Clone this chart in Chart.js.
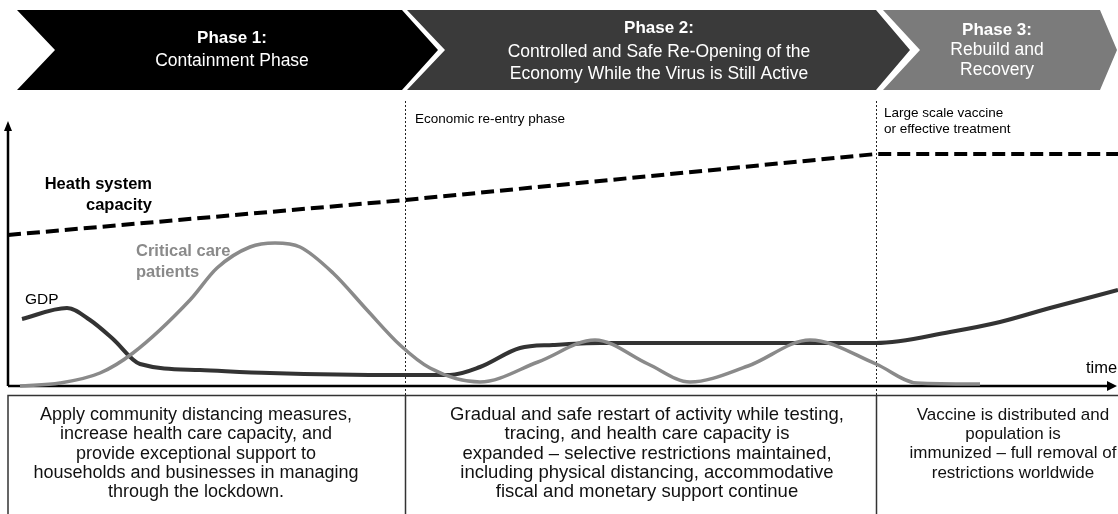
<!DOCTYPE html>
<html>
<head>
<meta charset="utf-8">
<script src="https://cdn.jsdelivr.net/npm/chart.js@4/dist/chart.umd.min.js"></script>
<style>
  html, body { margin: 0; padding: 0; background: #fff; }
  #wrap { width: 1118px; height: 514px; }
</style>
</head>
<body>
<div id="wrap"><canvas id="c" width="1118" height="514"></canvas></div>
<script>
// time runs along x, level along y (arbitrary units, no ticks shown)
const capacityPts = [[0, 151], [397, 186], [868, 232], [1110, 232]];
const criticalPts = [[12, 0], [52, 3], [92, 13], [125, 33], [182, 86], [209, 118], [242, 139], [267, 143],
  [292, 139], [325, 113], [359, 76], [392, 41], [422, 18], [472, 4], [530, 24], [587, 46], [640, 22],
  [682, 4], [740, 20], [802, 46], [868, 22], [909, 3], [972, 2]];
const gdpPts = [[14, 67], [59, 78], [82, 66], [105, 47], [132, 22], [192, 16], [262, 13], [392, 11],
  [442, 11], [472, 19], [512, 38], [545, 41], [592, 43], [868, 43], [942, 54], [992, 64], [1042, 78], [1110, 96]];

// phase boundaries on the time axis
const phaseBounds = [397, 868];
const phaseTitles = ['Phase 1:', 'Phase 2:', 'Phase 3:'];
const phaseSubtitles = [
  ['Containment Phase'],
  ['Controlled and Safe Re-Opening of the', 'Economy While the Virus is Still Active'],
  ['Rebuild and', 'Recovery']
];
const phaseNotes = [
  ['Apply community distancing measures,', 'increase health care capacity, and', 'provide exceptional support to',
   'households and businesses in managing', 'through the lockdown.'],
  ['Gradual and safe restart of activity while testing,', 'tracing, and health care capacity is',
   'expanded \u2013 selective restrictions maintained,', 'including physical distancing, accommodative',
   'fiscal and monetary support continue'],
  ['Vaccine is distributed and', 'population is', 'immunized \u2013 full removal of', 'restrictions worldwide']
];

const FONT = '"Liberation Sans", Arial, sans-serif';
const toXY = a => a.map(p => ({ x: p[0], y: p[1] }));

function chevron(ctx, xl, xr, top, bot, notch, tip, color) {
    const mid = (top + bot) / 2;
    ctx.beginPath();
    ctx.moveTo(xl, top);
    ctx.lineTo(xr, top);
    ctx.lineTo(xr + tip, mid);
    ctx.lineTo(xr, bot);
    ctx.lineTo(xl, bot);
    ctx.lineTo(xl + notch, mid);
    ctx.closePath();
    ctx.fillStyle = color;
    ctx.fill();
}

function lines(ctx, arr, x, y, lh) {
    arr.forEach((t, i) => ctx.fillText(t, x, y + i * lh));
}

const decor = {
    id: 'decor',
    beforeDatasetsDraw(chart) {
        const ctx = chart.ctx, xs = chart.scales.x, ys = chart.scales.y;
        const x0 = xs.getPixelForValue(0), y0 = ys.getPixelForValue(0);
        const b1 = xs.getPixelForValue(phaseBounds[0]), b2 = xs.getPixelForValue(phaseBounds[1]);
        ctx.save();

        // phase arrows
        chevron(ctx, 17, b1 - 3, 10, 90, 38, 36, '#000000');
        chevron(ctx, b1 + 2, b2, 10, 90, 38, 34, '#3a3a3a');
        chevron(ctx, b2 + 7, 1100, 10, 90, 37, 17, '#7b7b7b');

        ctx.fillStyle = '#fff';
        ctx.textAlign = 'center';
        ctx.textBaseline = 'middle';
        const cx = [232, 659, 997];
        const ty = [38, 28, 30];
        const sub = [61, 52, 50];
        const lh = [22, 22, 20];
        for (let i = 0; i < 3; i++) {
            ctx.font = 'bold 17px ' + FONT;
            ctx.fillText(phaseTitles[i], cx[i], ty[i]);
            ctx.font = '17.5px ' + FONT;
            lines(ctx, phaseSubtitles[i], cx[i], sub[i], lh[i]);
        }

        // dotted phase separators
        ctx.strokeStyle = '#222';
        ctx.lineWidth = 1;
        ctx.setLineDash([2, 2]);
        [b1, b2].forEach(b => {
            ctx.beginPath();
            ctx.moveTo(Math.round(b) + 0.5, 101);
            ctx.lineTo(Math.round(b) + 0.5, 395);
            ctx.stroke();
        });
        ctx.setLineDash([]);

        // bottom boxes
        ctx.strokeStyle = '#333';
        ctx.lineWidth = 1.5;
        ctx.beginPath();
        ctx.moveTo(x0, 514); ctx.lineTo(x0, 395.5); ctx.lineTo(1118, 395.5);
        [b1, b2].forEach(b => { ctx.moveTo(Math.round(b) + 0.5, 395); ctx.lineTo(Math.round(b) + 0.5, 514); });
        ctx.stroke();

        ctx.fillStyle = '#111';
        const nx = [196, 647, 1013];
        const nf = [18, 18.5, 17];
        phaseNotes.forEach((arr, i) => {
            ctx.font = nf[i] + 'px ' + FONT;
            lines(ctx, arr, nx[i], 415, 19.3);
        });

        // axes with arrow heads
        ctx.strokeStyle = '#000';
        ctx.fillStyle = '#000';
        ctx.lineWidth = 2.5;
        ctx.beginPath();
        ctx.moveTo(x0, y0); ctx.lineTo(1110, y0);
        ctx.moveTo(x0, y0); ctx.lineTo(x0, 128);
        ctx.stroke();
        ctx.beginPath();
        ctx.moveTo(1117, y0); ctx.lineTo(1107, y0 - 5); ctx.lineTo(1107, y0 + 5); ctx.closePath();
        ctx.moveTo(x0, 121); ctx.lineTo(x0 - 4, 131); ctx.lineTo(x0 + 4, 131); ctx.closePath();
        ctx.fill();
        ctx.restore();
    },
    afterDatasetsDraw(chart) {
        const ctx = chart.ctx;
        ctx.save();
        ctx.textBaseline = 'middle';
        ctx.fillStyle = '#000';
        ctx.textAlign = 'right';
        ctx.font = 'bold 16.5px ' + FONT;
        ctx.fillText('Heath system', 152, 184);
        ctx.fillText('capacity', 152, 205);
        ctx.textAlign = 'left';
        ctx.fillStyle = '#8a8a8a';
        ctx.fillText('Critical care', 136, 251);
        ctx.fillText('patients', 136, 272);
        ctx.fillStyle = '#000';
        ctx.font = '15.5px ' + FONT;
        ctx.fillText('GDP', 25, 300);
        ctx.font = '16.5px ' + FONT;
        ctx.fillText('time', 1086, 368);
        ctx.font = '13.5px ' + FONT;
        ctx.fillText('Economic re-entry phase', 415, 119);
        ctx.fillText('Large scale vaccine', 884, 113);
        ctx.fillText('or effective treatment', 884, 129);
        ctx.restore();
    }
};

new Chart(document.getElementById('c'), {
    type: 'line',
    data: {
        datasets: [
            {
                label: 'Heath system capacity',
                data: toXY(capacityPts),
                borderColor: '#000',
                borderWidth: 4,
                borderDash: [13, 6],
                tension: 0,
                pointRadius: 0
            },
            {
                label: 'Critical care patients',
                data: toXY(criticalPts),
                borderColor: '#8a8a8a',
                borderWidth: 3.5,
                cubicInterpolationMode: 'monotone',
                pointRadius: 0
            },
            {
                label: 'GDP',
                data: toXY(gdpPts),
                borderColor: '#333',
                borderWidth: 4,
                cubicInterpolationMode: 'monotone',
                pointRadius: 0
            }
        ]
    },
    options: {
        responsive: false,
        animation: false,
        clip: false,
        layout: { padding: { left: 8, right: 0, top: 122, bottom: 128 } },
        plugins: { legend: { display: false }, tooltip: { enabled: false } },
        scales: {
            x: { type: 'linear', min: 0, max: 1110, display: false },
            y: { min: 0, max: 264, display: false }
        }
    },
    plugins: [decor]
});
</script>
</body>
</html>
